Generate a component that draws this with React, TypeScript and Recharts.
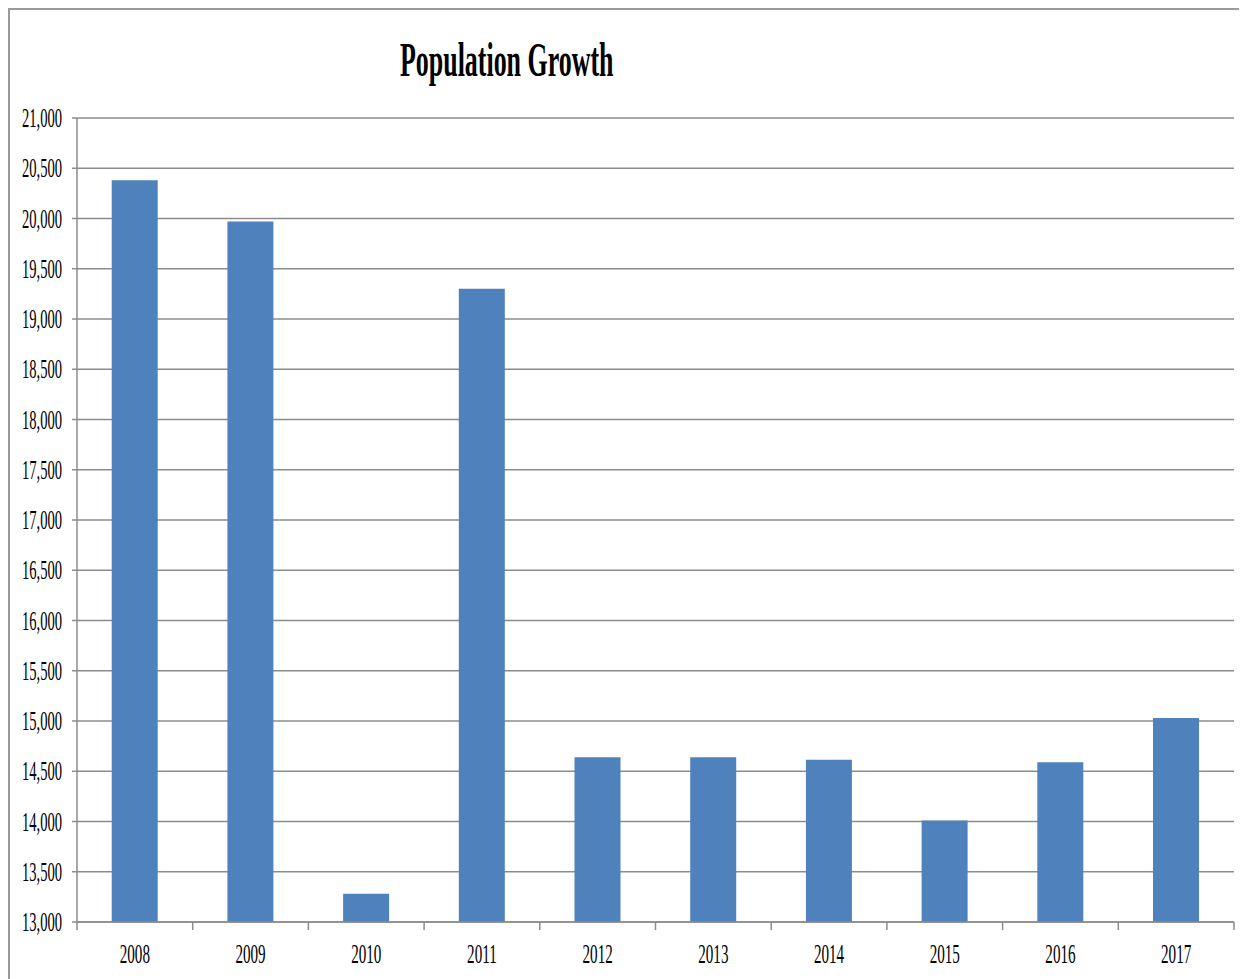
import React from "react";
import { BarChart, Bar, XAxis, YAxis, CartesianGrid } from "recharts";

const YEARS = ["2008", "2009", "2010", "2011", "2012", "2013", "2014", "2015", "2016", "2017"];
const POPULATION = [20380, 19970, 13280, 19300, 14640, 14640, 14615, 14010, 14590, 15030];
const Y_TICKS = [13000, 13500, 14000, 14500, 15000, 15500, 16000, 16500, 17000, 17500, 18000, 18500, 19000, 19500, 20000, 20500, 21000];

const FONT = "'Liberation Serif', 'Times New Roman', serif";
const SQUEEZE = 0.54;
const GRID = "#8c8c8c";

const data = YEARS.map((year, i) => ({ year, population: POPULATION[i] }));

const fmt = (v: number) => v.toLocaleString("en-US");

function YTick(props: any) {
  const { x, y, payload } = props;
  return (
    <g transform={`translate(${x - 8},${y})`}>
      <text
        transform={`scale(${SQUEEZE},1)`}
        textAnchor="end"
        dy={9}
        style={{ fontFamily: FONT, fontSize: 27, fill: "#000" }}
      >
        {fmt(payload.value)}
      </text>
    </g>
  );
}

function XTick(props: any) {
  const { x, y, payload, index } = props;
  const half = payload.offset || 57.75;
  return (
    <g>
      {index === 0 && <line x1={x - half} x2={x - half} y1={y - 8} y2={y} stroke={GRID} strokeWidth={1.5} />}
      <line x1={x + half} x2={x + half} y1={y - 8} y2={y} stroke={GRID} strokeWidth={1.5} />
      <g transform={`translate(${x},${y + 33})`}>
        <text
          transform={`scale(${SQUEEZE},1)`}
          textAnchor="middle"
          style={{ fontFamily: FONT, fontSize: 28, fill: "#000" }}
        >
          {payload.value}
        </text>
      </g>
    </g>
  );
}

export default function App() {
  return (
    <div
      style={{
        position: "relative",
        width: 1238,
        height: 970,
        borderTop: "2px solid #9a9a9a",
        borderLeft: "2px solid #9a9a9a",
        background: "#fff",
      }}
    >
      <div
        style={{
          position: "absolute",
          left: 0,
          top: 24,
          width: 993,
          textAlign: "center",
          fontFamily: FONT,
          fontWeight: "bold",
          fontSize: 48,
          lineHeight: "52px",
          transform: `scaleX(${SQUEEZE})`,
          transformOrigin: "497px 0",
          whiteSpace: "nowrap",
        }}
      >
        Population Growth
      </div>
      <BarChart
        width={1238}
        height={970}
        data={data}
        margin={{ top: 108, right: 14, left: 0, bottom: 0 }}
        barCategoryGap="30%"
      >
        <CartesianGrid vertical={false} stroke={GRID} strokeWidth={1.5} />
        <XAxis
          dataKey="year"
          height={58}
          axisLine={{ stroke: GRID, strokeWidth: 1.5 }}
          tickLine={false}
          tick={<XTick />}
          interval={0}
        />
        <YAxis
          domain={[13000, 21000]}
          ticks={Y_TICKS}
          interval={0}
          width={67}
          axisLine={{ stroke: GRID, strokeWidth: 1.5 }}
          tickLine={{ stroke: GRID, strokeWidth: 1.5 }}
          tickSize={5}
          tick={<YTick />}
        />
        <Bar dataKey="population" fill="#4f81bd" isAnimationActive={false} />
      </BarChart>
    </div>
  );
}
